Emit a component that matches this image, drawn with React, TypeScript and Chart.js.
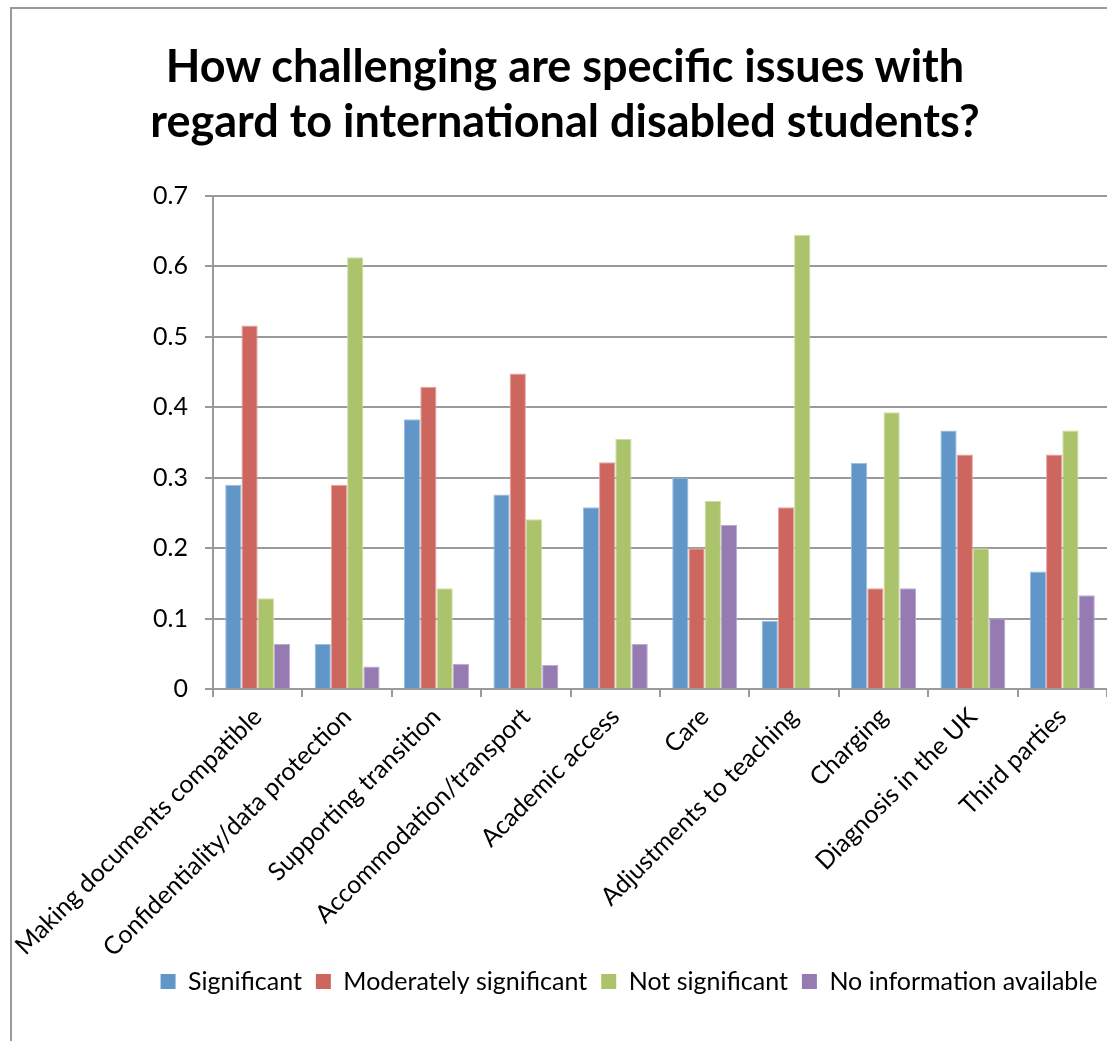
import React, { useEffect, useRef } from "react";
import { Chart, registerables } from "chart.js";

Chart.register(...registerables);

const categories = [
  "Making documents compatible",
  "Confidentiality/data protection",
  "Supporting transition",
  "Accommodation/transport",
  "Academic access",
  "Care",
  "Adjustments to teaching",
  "Charging",
  "Diagnosis in the UK",
  "Third parties",
];

const significant = [0.29, 0.064, 0.383, 0.276, 0.258, 0.3, 0.097, 0.321, 0.367, 0.167];
const moderatelySignificant = [0.516, 0.29, 0.429, 0.448, 0.322, 0.2, 0.258, 0.143, 0.333, 0.333];
const notSignificant = [0.129, 0.613, 0.143, 0.241, 0.355, 0.267, 0.645, 0.393, 0.2, 0.367];
const noInformation = [0.064, 0.032, 0.036, 0.034, 0.064, 0.233, 0, 0.143, 0.1, 0.133];

const seriesNames = ["Significant", "Moderately significant", "Not significant", "No information available"];
const seriesColors = ["#6196c8", "#ce6660", "#abc46c", "#957bb1"];
const seriesEdgeColors = ["#9cbde0", "#e8a4a0", "#cddd9f", "#bcaad2"];

const titleLines = ["How challenging are specific issues with", "regard to international disabled students?"];

const CANVAS_W = 1198;
const CANVAS_H = 1041;

export default function App() {
  const canvasRef = useRef<HTMLCanvasElement | null>(null);

  useEffect(() => {
    if (!canvasRef.current) return;
    const values = [significant, moderatelySignificant, notSignificant, noInformation];
    const chart = new Chart(canvasRef.current, {
      type: "bar",
      data: {
        labels: categories,
        datasets: values.map((v, i) => ({
          label: seriesNames[i],
          data: v,
          backgroundColor: seriesColors[i],
          borderColor: seriesEdgeColors[i],
          borderWidth: { top: 1, left: 1, right: 1, bottom: 0 },
          categoryPercentage: 0.727,
          barPercentage: 1,
        })),
      },
      options: {
        responsive: false,
        animation: false,
        devicePixelRatio: 1,
        layout: { padding: { top: 196, left: 60, right: 0, bottom: 37 } },
        font: { family: "Lato", size: 25 },
        plugins: {
          title: { display: false },
          tooltip: { enabled: false },
          legend: {
            position: "bottom",
            labels: {
              boxWidth: 15,
              boxHeight: 15,
              padding: 14,
              color: "#000",
              font: { family: "Lato", size: 25 },
              generateLabels: (c: any) =>
                c.data.datasets.map((d: any, i: number) => ({
                  text: d.label,
                  fillStyle: seriesColors[i],
                  strokeStyle: seriesColors[i],
                  lineWidth: 0,
                  hidden: false,
                  datasetIndex: i,
                  fontColor: "#000",
                })),
            },
          },
        },
        scales: {
          x: {
            afterFit: (s: any) => {
              s.height = 266;
              s._computeLabelArea = () => undefined;
            },
            grid: {
              offset: true,
              drawOnChartArea: false,
              drawTicks: true,
              tickLength: 8,
              color: "#9a9a9a",
              lineWidth: 2,
            },
            border: { display: true, color: "#9a9a9a", width: 2 },
            ticks: {
              minRotation: 45,
              maxRotation: 45,
              autoSkip: false,
              padding: 5,
              color: "#000",
              font: { family: "Lato", size: 25 },
            },
          },
          y: {
            min: 0,
            max: 0.7,
            afterFit: (s: any) => {
              s.width = 153;
            },
            grid: {
              color: "#9a9a9a",
              lineWidth: 2,
              drawTicks: true,
              tickLength: 8,
            },
            border: { display: true, color: "#9a9a9a", width: 2 },
            ticks: {
              stepSize: 0.1,
              padding: 17,
              color: "#000",
              font: { family: "Lato", size: 25 },
              callback: (v: any) => String(Math.round(Number(v) * 10) / 10),
            },
          },
          yRight: {
            type: "linear",
            position: "right",
            display: true,
            min: 0,
            max: 0.7,
            grid: { display: false, drawTicks: false },
            border: { display: false },
            ticks: { display: false },
            afterFit: (s: any) => {
              s.width = CANVAS_W - 1107;
            },
          },
        },
      },
    });
    return () => chart.destroy();
  }, []);

  return (
    <div style={{ position: "fixed", left: 0, top: 0, width: 1107, height: 1041, overflow: "hidden", background: "#fff" }}>
      <div
        style={{
          position: "absolute",
          left: 10,
          top: 7,
          width: 1300,
          height: 1100,
          border: "2px solid #9a9a9a",
          boxSizing: "border-box",
        }}
      />
      <canvas ref={canvasRef} width={CANVAS_W} height={CANVAS_H} style={{ position: "absolute", left: 0, top: 0 }} />
      <div
        style={{
          position: "absolute",
          left: 0,
          top: 38,
          width: 1130,
          textAlign: "center",
          fontFamily: "Lato",
          fontWeight: 700,
          fontSize: 45,
          lineHeight: "55px",
          color: "#000",
        }}
      >
        {titleLines.map((l, i) => (
          <div key={i}>{l}</div>
        ))}
      </div>
    </div>
  );
}
